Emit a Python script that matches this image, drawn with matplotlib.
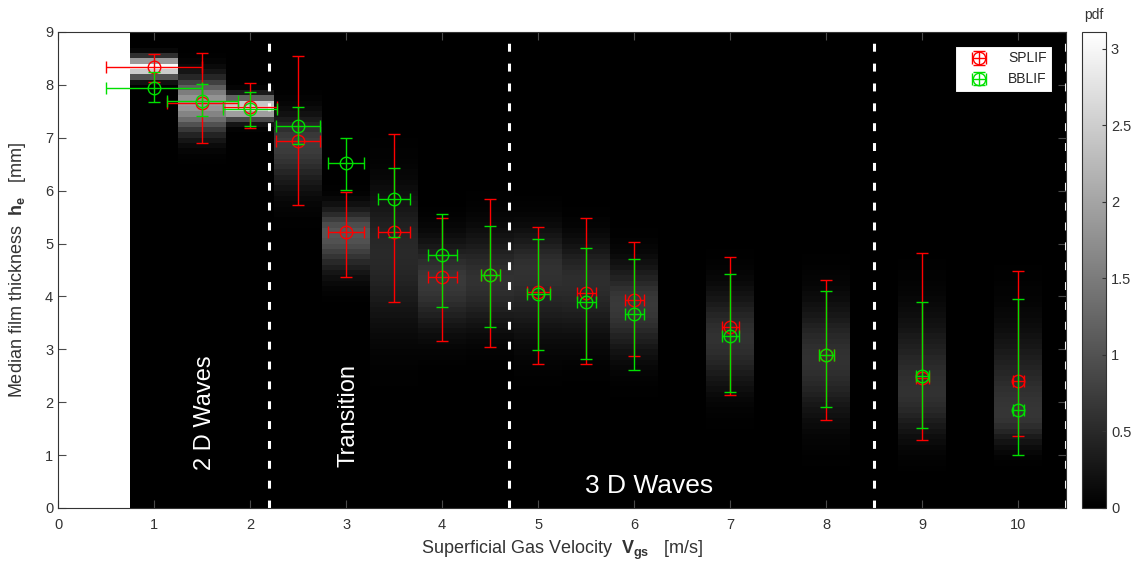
import numpy as np
import matplotlib
matplotlib.use('Agg')
import matplotlib.pyplot as plt

plt.rcParams['font.family'] = ['Liberation Sans', 'DejaVu Sans']
plt.rcParams['mathtext.fontset'] = 'custom'
plt.rcParams['mathtext.rm'] = 'Liberation Sans'
plt.rcParams['mathtext.bf'] = 'Liberation Sans:bold'
plt.rcParams['mathtext.it'] = 'Liberation Sans:italic'

# ---------------- data ----------------
velocity = [1, 1.5, 2, 2.5, 3, 3.5, 4, 4.5, 5, 5.5, 6, 7, 8, 9, 10]
vel_err = [0.5, 0.37, 0.28, 0.23, 0.19, 0.17, 0.15, 0.10, 0.12, 0.10, 0.10, 0.09, 0.08, 0.07, 0.06]

splif_median = [8.34, 7.66, 7.59, 6.93, 5.22, 5.21, 4.37, 4.40, 4.08, 4.07, 3.93, 3.42, 2.90, 2.46, 2.41]
splif_upper = [8.58, 8.61, 8.03, 8.55, 5.98, 7.08, 5.49, 5.84, 5.31, 5.49, 5.02, 4.74, 4.31, 4.83, 4.48]
splif_lower = [8.06, 6.90, 7.18, 5.73, 4.37, 3.89, 3.16, 3.05, 2.72, 2.72, 2.88, 2.13, 1.66, 1.28, 1.37]

bblif_median = [7.95, 7.70, 7.54, 7.23, 6.53, 5.84, 4.78, 4.40, 4.05, 3.89, 3.66, 3.25, 2.90, 2.50, 1.85]
bblif_upper = [8.24, 8.01, 7.86, 7.58, 7.00, 6.43, 5.56, 5.33, 5.09, 4.92, 4.71, 4.43, 4.10, 3.89, 3.96]
bblif_lower = [7.68, 7.42, 7.22, 6.88, 6.02, 5.12, 3.80, 3.42, 2.99, 2.81, 2.60, 2.19, 1.90, 1.52, 1.00]

# film thickness pdf per velocity column (peak value, mode, lower / upper spread)
pdf_peak = [3.1, 1.9, 2.8, 0.75, 1.05, 0.5, 0.7, 0.6, 0.6, 0.55, 0.7, 0.6, 0.6, 0.6, 0.65]
pdf_mode = [8.33, 7.65, 7.58, 6.9, 5.2, 4.8, 4.3, 4.3, 4.5, 4.3, 3.85, 3.2, 2.8, 2.2, 1.75]
pdf_spread_lo = [0.12, 0.35, 0.15, 0.55, 0.45, 0.9, 0.6, 0.6, 0.8, 0.7, 0.6, 0.6, 0.7, 0.55, 0.35]
pdf_spread_hi = [0.12, 0.3, 0.13, 0.35, 0.3, 0.8, 0.5, 0.6, 0.5, 0.5, 0.5, 0.6, 0.7, 0.9, 1.0]

boundaries = [2.2, 4.7, 8.5, 10.5]
regime_labels = ['2 D Waves', 'Transition', '3 D Waves']

# ---------------- figure ----------------
fig = plt.figure(figsize=(11.38, 5.66), dpi=100)
ax = fig.add_axes([0.051, 0.1025, 0.886, 0.841])
cax = fig.add_axes([0.9508, 0.1025, 0.0211, 0.841])

x_edges = np.arange(0.75, 10.76, 0.5)
y_edges = np.arange(0, 9.001, 0.1)
y_mid = 0.5 * (y_edges[:-1] + y_edges[1:])
Z = np.zeros((len(y_mid), len(x_edges) - 1))
for v, pk, md, slo, shi in zip(velocity, pdf_peak, pdf_mode, pdf_spread_lo, pdf_spread_hi):
    j = int(round((v - 1.0) / 0.5))
    s = np.where(y_mid < md, slo, shi)
    Z[:, j] = pk * np.exp(-0.5 * ((y_mid - md) / s) ** 2)

mesh = ax.pcolormesh(x_edges, y_edges, Z, cmap='gray', vmin=0, vmax=3.11, shading='flat', zorder=1)

for b in boundaries:
    ax.axvline(b, color='white', lw=2.2, ls=(0, (2.6, 3.9)), zorder=2)

vel = np.array(velocity)
sm, su, sl = map(np.array, (splif_median, splif_upper, splif_lower))
bm, bu, bl = map(np.array, (bblif_median, bblif_upper, bblif_lower))

ax.errorbar(vel, sm, yerr=[sm - sl, su - sm], xerr=vel_err, fmt='o', mfc='none',
            mec='#ff0000', ecolor='#ff0000', ms=9, mew=1, elinewidth=1, capsize=4,
            capthick=1, label='SPLIF', zorder=3)
ax.errorbar(vel, bm, yerr=[bm - bl, bu - bm], xerr=vel_err, fmt='o', mfc='none',
            mec='#00e000', ecolor='#00e000', ms=9, mew=1, elinewidth=1, capsize=4,
            capthick=1, label='BBLIF', zorder=4)

ax.text(1.53, 0.72, regime_labels[0], rotation=90, color='white', fontsize=17,
        ha='center', va='bottom', zorder=5)
ax.text(3.02, 0.78, regime_labels[1], rotation=90, color='white', fontsize=17,
        ha='center', va='bottom', zorder=5)
ax.text(6.16, 0.42, regime_labels[2], color='white', fontsize=19,
        ha='center', va='center', zorder=5)

ax.set_xlim(0, 10.5)
ax.set_ylim(0, 9)
ax.set_facecolor('white')
ax.set_xticks(range(0, 11))
ax.set_yticks(range(0, 10))
tc = '#333333'
ax.tick_params(direction='in', length=6, width=0.8, color='#4a4a4a', labelcolor=tc,
               labelsize=10.5, top=True, right=True)
ax.tick_params(axis='x', pad=7)
for sp in ax.spines.values():
    sp.set_color(tc)
    sp.set_linewidth(0.8)

ax.set_xlabel(r'Superficial Gas Velocity  $\mathbf{V_{gs}}$   [m/s]', fontsize=13, color=tc, labelpad=5)
ax.set_ylabel(r'Median film thickness  $\mathbf{h_e}$   [mm]', fontsize=13, color=tc, labelpad=12)

leg = ax.legend(loc='upper right', fontsize=10, fancybox=False, framealpha=1,
                edgecolor='black', borderaxespad=1.0, handlelength=2.6)
leg.get_frame().set_linewidth(0.8)
for t in leg.get_texts():
    t.set_color('#262626')

cb = fig.colorbar(mesh, cax=cax, ticks=[0, 0.5, 1, 1.5, 2, 2.5, 3])
cb.ax.set_yticklabels(['0', '0.5', '1', '1.5', '2', '2.5', '3'])
cax.tick_params(direction='in', length=3, width=0.8, color=tc, labelcolor=tc, labelsize=10.5)
cb.outline.set_edgecolor(tc)
cb.outline.set_linewidth(0.8)
cax.set_title('pdf', fontsize=10, color=tc, pad=9)

fig.savefig('out.png', dpi=100)
